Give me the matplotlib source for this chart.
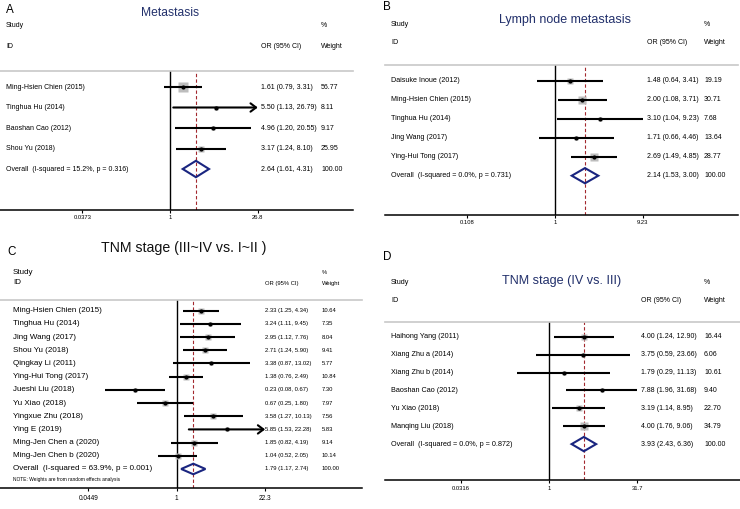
import numpy as np
import matplotlib.pyplot as plt
from matplotlib.patches import Polygon

plt.rcParams["font.family"] = ["Liberation Sans", "DejaVu Sans"]

W, H = 740, 509
NAVY = "#22306b"
DIAMOND = "#1a2580"
RED = "#a3282e"
BOX = "#bdbdbd"

# ---- panel A: Metastasis
studies_a = ["Ming-Hsien Chien (2015)", "Tinghua Hu (2014)", "Baoshan Cao (2012)", "Shou Yu (2018)"]
or_a = [1.61, 5.50, 4.96, 3.17]
lo_a = [0.79, 1.13, 1.20, 1.24]
hi_a = [3.31, 26.79, 20.55, 8.10]
weight_a = [56.77, 8.11, 9.17, 25.95]
arrow_a = [False, True, False, False]
overall_a = [2.64, 1.61, 4.31]
het_a = [15.2, 0.316]
ticks_a = [0.0373, 1, 26.8]

# ---- panel B: Lymph node metastasis
studies_b = ["Daisuke Inoue (2012)", "Ming-Hsien Chien (2015)", "Tinghua Hu (2014)",
             "Jing Wang (2017)", "Ying-Hui Tong (2017)"]
or_b = [1.48, 2.00, 3.10, 1.71, 2.69]
lo_b = [0.64, 1.08, 1.04, 0.66, 1.49]
hi_b = [3.41, 3.71, 9.23, 4.46, 4.85]
weight_b = [19.19, 30.71, 7.68, 13.64, 28.77]
arrow_b = [False, False, False, False, False]
overall_b = [2.14, 1.53, 3.00]
het_b = [0.0, 0.731]
ticks_b = [0.108, 1, 9.23]

# ---- panel C: TNM stage (III~IV vs. I~II)
studies_c = ["Ming-Hsien Chien (2015)", "Tinghua Hu (2014)", "Jing Wang (2017)", "Shou Yu (2018)",
             "Qingkay Li (2011)", "Ying-Hui Tong (2017)", "Jueshi Liu (2018)", "Yu Xiao (2018)",
             "Yingxue Zhu (2018)", "Ying E (2019)", "Ming-Jen Chen a (2020)", "Ming-Jen Chen b (2020)"]
or_c = [2.33, 3.24, 2.95, 2.71, 3.38, 1.38, 0.23, 0.67, 3.58, 5.85, 1.85, 1.04]
lo_c = [1.25, 1.11, 1.12, 1.24, 0.87, 0.76, 0.08, 0.25, 1.27, 1.53, 0.82, 0.52]
hi_c = [4.34, 9.45, 7.76, 5.90, 13.02, 2.49, 0.67, 1.80, 10.13, 22.28, 4.19, 2.05]
weight_c = [10.64, 7.35, 8.04, 9.41, 5.77, 10.84, 7.30, 7.97, 7.56, 5.83, 9.14, 10.14]
arrow_c = [False] * 9 + [True, False, False]
overall_c = [1.79, 1.17, 2.74]
het_c = [63.9, 0.001]
ticks_c = [0.0449, 1, 22.3]

# ---- panel D: TNM stage (IV vs. III)
studies_d = ["Haihong Yang (2011)", "Xiang Zhu a (2014)", "Xiang Zhu b (2014)",
             "Baoshan Cao (2012)", "Yu Xiao (2018)", "Manqing Liu (2018)"]
or_d = [4.00, 3.75, 1.79, 7.88, 3.19, 4.00]
lo_d = [1.24, 0.59, 0.29, 1.96, 1.14, 1.76]
hi_d = [12.90, 23.66, 11.13, 31.68, 8.95, 9.06]
weight_d = [16.44, 6.06, 10.61, 9.40, 22.70, 34.79]
arrow_d = [False] * 6
overall_d = [3.93, 2.43, 6.36]
het_d = [0.0, 0.872]
ticks_d = [0.0316, 1, 31.7]

# layout in pixels of the 740x509 canvas
layout_a = dict(left=0, right=353, top=71, bottom=210, one=170, k=26.7, row0=87, step=20.5,
                letter=(6, 10), title=(170, 13), title_fs=8.7, title_color=NAVY,
                name_x=6, or_x=261, w_x=321, head_y=(25, 46),
                name_fs=5.0, val_fs=5.0, tick_fs=4.2, tick_pad=1.5, box_max=9.5, note=None)
layout_b = dict(left=385, right=738, top=65, bottom=215, one=555, k=39.4, row0=80.7, step=19.0,
                letter=(383.5, 7), title=(565, 20), title_fs=9.0, title_color=NAVY,
                name_x=391, or_x=647, w_x=704, head_y=(24, 43),
                name_fs=5.1, val_fs=5.0, tick_fs=4.2, tick_pad=1.2, box_max=7.5, note=None)
layout_c = dict(left=0, right=362, top=300, bottom=488, one=176.7, k=28.5, row0=310.7, step=13.19,
                letter=(7, 252), title=(184, 248), title_fs=10.2, title_color="#111111",
                name_x=13, or_x=265, w_x=322, head_y=(272, 283),
                name_fs=5.8, val_fs=4.2, tick_fs=4.7, tick_pad=2.6, box_max=6.0,
                note=(13, 480, "NOTE: Weights are from random effects analysis"))
layout_d = dict(left=385, right=740, top=322, bottom=480, one=549, k=25.47, row0=336.7, step=17.9,
                letter=(383.5, 257), title=(562, 281), title_fs=9.1, title_color=NAVY,
                name_x=391, or_x=641, w_x=704, head_y=(282, 300),
                name_fs=5.2, val_fs=5.0, tick_fs=4.2, tick_pad=2.2, box_max=8.0, note=None)


def draw_panel(fig, letter, title, studies, ors, los, his, weights, arrows, overall, het, ticks, lay):
    L, R, T, B = lay["left"], lay["right"], lay["top"], lay["bottom"]
    ax = fig.add_axes([L / W, 1 - B / H, (R - L) / W, (B - T) / H])
    ax.set_xscale("log")
    ax.set_xlim(np.exp((L - lay["one"]) / lay["k"]), np.exp((R - lay["one"]) / lay["k"]))
    ax.set_ylim((B - lay["row0"]) / lay["step"], (T - lay["row0"]) / lay["step"])

    def xpx(px):
        return np.exp((px - lay["one"]) / lay["k"])

    def ypx(py):
        return (py - lay["row0"]) / lay["step"]

    for side in ["left", "right"]:
        ax.spines[side].set_visible(False)
    ax.spines["top"].set_color("#c8c8c8")
    ax.spines["top"].set_linewidth(1.2)
    ax.spines["bottom"].set_linewidth(1.1)
    ax.set_yticks([])
    ax.set_xticks(ticks)
    ax.set_xticklabels([f"{t:g}" for t in ticks])
    ax.minorticks_off()
    ax.tick_params(axis="x", length=2.4, width=0.8, pad=lay["tick_pad"], labelsize=lay["tick_fs"])

    ax.axvline(1, color="black", lw=1.0, zorder=1)
    ax.axvline(overall[0], color=RED, lw=0.8, ls=(0, (3, 2)), zorder=1)

    wmax = max(weights)
    for i, (name, o, lo, hi, w, arr) in enumerate(zip(studies, ors, los, his, weights, arrows)):
        side_pt = lay["box_max"] * np.sqrt(w / wmax) * 0.72
        ax.plot(o, i, marker="s", ms=side_pt, color=BOX, mec="none", zorder=2)
        if arr:
            ax.annotate("", xy=(hi, i), xytext=(lo, i),
                        arrowprops=dict(arrowstyle="->,head_length=0.4,head_width=0.3",
                                        lw=1.5, color="black", shrinkA=0, shrinkB=0), zorder=3)
        else:
            ax.plot([lo, hi], [i, i], color="black", lw=1.5, solid_capstyle="butt", zorder=3)
        ax.plot(o, i, marker="o", ms=2.0, color="black", zorder=4)
        ax.text(xpx(lay["name_x"]), i, name, fontsize=lay["name_fs"], va="center", ha="left")
        ax.text(xpx(lay["or_x"]), i, f"{o:.2f} ({lo:.2f}, {hi:.2f})", fontsize=lay["val_fs"],
                va="center", ha="left")
        ax.text(xpx(lay["w_x"]), i, f"{w:.2f}", fontsize=lay["val_fs"], va="center", ha="left")

    n = len(studies)
    o, lo, hi = overall
    h = 0.4
    ax.add_patch(Polygon([(lo, n), (o, n - h), (hi, n), (o, n + h)], closed=True, fill=False,
                         edgecolor=DIAMOND, lw=1.5, zorder=5))
    ax.text(xpx(lay["name_x"]), n, f"Overall  (I-squared = {het[0]:.1f}%, p = {het[1]:.3f})",
            fontsize=lay["name_fs"], va="center", ha="left")
    ax.text(xpx(lay["or_x"]), n, f"{o:.2f} ({lo:.2f}, {hi:.2f})", fontsize=lay["val_fs"],
            va="center", ha="left")
    ax.text(xpx(lay["w_x"]), n, "100.00", fontsize=lay["val_fs"], va="center", ha="left")

    y1, y2 = ypx(lay["head_y"][0]), ypx(lay["head_y"][1])
    ax.text(xpx(lay["name_x"]), y1, "Study", fontsize=lay["name_fs"], va="center")
    ax.text(xpx(lay["name_x"]), y2, "ID", fontsize=lay["name_fs"], va="center")
    ax.text(xpx(lay["w_x"]), y1, "%", fontsize=lay["val_fs"], va="center")
    ax.text(xpx(lay["or_x"]), y2, "OR (95% CI)", fontsize=lay["val_fs"], va="center")
    ax.text(xpx(lay["w_x"]), y2, "Weight", fontsize=lay["val_fs"], va="center")
    if lay["note"]:
        nx, ny, ntext = lay["note"]
        ax.text(xpx(nx), ypx(ny), ntext, fontsize=3.5, va="center")

    fig.text(lay["letter"][0] / W, 1 - lay["letter"][1] / H, letter, fontsize=8.4,
             ha="left", va="center")
    fig.text(lay["title"][0] / W, 1 - lay["title"][1] / H, title, fontsize=lay["title_fs"],
             color=lay["title_color"], ha="center", va="center")
    return ax


fig = plt.figure(figsize=(W / 100, H / 100), dpi=100)
draw_panel(fig, "A", "Metastasis", studies_a, or_a, lo_a, hi_a, weight_a, arrow_a,
           overall_a, het_a, ticks_a, layout_a)
draw_panel(fig, "B", "Lymph node metastasis", studies_b, or_b, lo_b, hi_b, weight_b, arrow_b,
           overall_b, het_b, ticks_b, layout_b)
draw_panel(fig, "C", "TNM stage (III~IV vs. I~II )", studies_c, or_c, lo_c, hi_c, weight_c, arrow_c,
           overall_c, het_c, ticks_c, layout_c)
draw_panel(fig, "D", "TNM stage (IV vs. III)", studies_d, or_d, lo_d, hi_d, weight_d, arrow_d,
           overall_d, het_d, ticks_d, layout_d)
fig.savefig("out.png", dpi=100)
